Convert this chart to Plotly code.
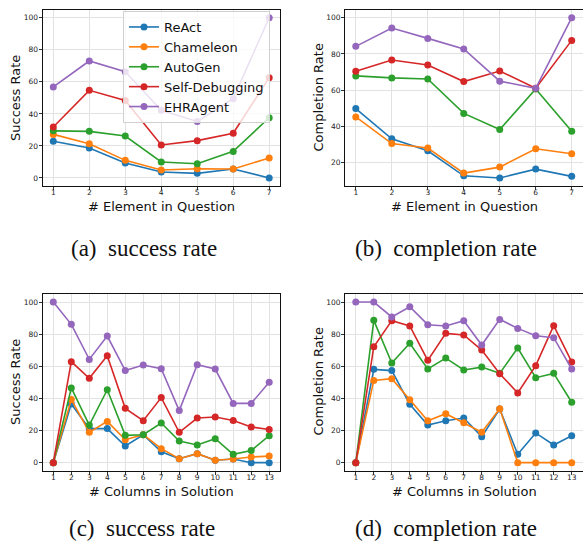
import plotly.graph_objects as go

W, H = 583, 547

methods = ["ReAct", "Chameleon", "AutoGen", "Self-Debugging", "EHRAgent"]
colors = ["#1f77b4", "#ff7f0e", "#2ca02c", "#d62728", "#9467bd"]

elem_x = [1, 2, 3, 4, 5, 6, 7]
cols_x = [1, 2, 3, 4, 5, 6, 7, 8, 9, 10, 11, 12, 13]

# (a) success rate vs # element in question
a_react = [22.9, 18.7, 9.4, 3.7, 2.9, 5.6, 0.0]
a_chameleon = [27.2, 21.4, 11.0, 5.0, 5.8, 5.6, 12.5]
a_autogen = [29.4, 29.1, 26.2, 10.0, 8.9, 16.6, 37.6]
a_selfdebug = [31.8, 54.7, 48.4, 20.6, 23.3, 27.9, 62.6]
a_ehragent = [56.8, 73.0, 66.3, 42.2, 35.3, 49.5, 100.0]

# (b) completion rate vs # element in question
b_react = [49.9, 33.2, 26.6, 12.8, 11.6, 16.5, 12.5]
b_chameleon = [45.3, 30.6, 28.1, 14.3, 17.6, 27.7, 25.0]
b_autogen = [67.9, 66.8, 66.2, 47.2, 38.3, 60.7, 37.4]
b_selfdebug = [70.5, 76.7, 73.9, 64.8, 70.6, 61.1, 87.5]
b_ehragent = [84.2, 94.3, 88.6, 82.8, 65.0, 61.1, 100.0]

# (c) success rate vs # columns in solution
c_react = [0.0, 36.5, 21.2, 21.2, 10.4, 17.4, 6.8, 2.5, 5.6, 1.5, 2.3, 0.0, 0.0]
c_chameleon = [0.0, 39.4, 18.9, 25.7, 14.3, 17.4, 8.7, 2.5, 5.6, 1.5, 2.3, 3.5, 4.1]
c_autogen = [0.0, 46.5, 23.4, 45.4, 17.0, 17.4, 24.7, 13.5, 11.0, 14.9, 5.2, 7.5, 16.8]
c_selfdebug = [0.0, 62.9, 52.5, 66.6, 33.8, 26.1, 40.5, 18.9, 27.8, 28.4, 26.3, 22.2, 20.7]
c_ehragent = [100.0, 86.1, 64.3, 78.8, 57.3, 60.8, 58.5, 32.4, 61.0, 58.3, 36.9, 36.9, 50.0]

# (d) completion rate vs # columns in solution
d_react = [0.0, 58.1, 57.3, 36.3, 23.4, 26.1, 27.8, 16.2, 33.4, 5.2, 18.5, 11.0, 16.8]
d_chameleon = [0.0, 51.2, 52.3, 39.2, 26.1, 30.5, 24.9, 18.9, 33.6, 0.0, 0.0, 0.0, 0.0]
d_autogen = [0.0, 88.6, 62.0, 74.3, 58.3, 65.1, 57.7, 59.5, 55.6, 71.4, 52.9, 55.6, 37.6]
d_selfdebug = [0.0, 72.2, 88.4, 85.1, 63.7, 80.5, 79.5, 70.1, 55.4, 43.4, 60.4, 85.3, 62.7]
d_ehragent = [100.0, 100.0, 90.7, 97.1, 85.9, 85.1, 88.4, 73.2, 89.2, 83.6, 79.0, 77.8, 58.3]

panels = [
    dict(x=elem_x, series=[a_react, a_chameleon, a_autogen, a_selfdebug, a_ehragent], ax="", legend=True),
    dict(x=elem_x, series=[b_react, b_chameleon, b_autogen, b_selfdebug, b_ehragent], ax="2", legend=False),
    dict(x=cols_x, series=[c_react, c_chameleon, c_autogen, c_selfdebug, c_ehragent], ax="3", legend=False),
    dict(x=cols_x, series=[d_react, d_chameleon, d_autogen, d_selfdebug, d_ehragent], ax="4", legend=False),
]

fig = go.Figure()
for p in panels:
    for name, col, ys in zip(methods, colors, p["series"]):
        fig.add_trace(go.Scatter(
            x=p["x"], y=ys, mode="lines+markers", name=name,
            line=dict(color=col, width=1.6),
            marker=dict(color=col, size=7),
            xaxis="x" + p["ax"], yaxis="y" + p["ax"],
            showlegend=p["legend"],
        ))

def px(x):
    return x / W

def py(y):
    return 1 - y / H

xdom_l = [px(42.5), px(280)]
xdom_r = [px(345), px(582.5)]
ydom_t = [py(186), py(9.7)]
ydom_b = [py(470.7), py(294)]

tickfont = dict(family="DejaVu Sans", size=7.5, color="#222")
common_x = dict(showgrid=True, gridcolor="#e2e2e2", gridwidth=1, zeroline=False,
                showline=True, linecolor="#111", linewidth=1, mirror=True,
                ticks="outside", ticklen=3, tickwidth=0.8, tickcolor="#333",
                tickfont=tickfont, dtick=1, tick0=1, ticklabelstandoff=-4)
common_y = dict(showgrid=True, gridcolor="#e2e2e2", gridwidth=1, zeroline=False,
                showline=True, linecolor="#111", linewidth=1, mirror=True,
                ticks="outside", ticklen=3, tickwidth=0.8, tickcolor="#333",
                tickfont=tickfont, dtick=20, tick0=0, ticklabelstandoff=-1)

fig.update_layout(
    width=W, height=H, autosize=False,
    margin=dict(l=0, r=0, t=0, b=0),
    paper_bgcolor="white", plot_bgcolor="white",
    font=dict(family="DejaVu Sans", color="#111"),
    xaxis=dict(domain=xdom_l, range=[0.7, 7.3], anchor="y", **common_x),
    yaxis=dict(domain=ydom_t, range=[-5, 105], anchor="x", **common_y),
    xaxis2=dict(domain=xdom_r, range=[0.7, 7.3], anchor="y2", **common_x),
    yaxis2=dict(domain=ydom_t, range=[7.18, 104.42], anchor="x2", **common_y),
    xaxis3=dict(domain=xdom_l, range=[0.4, 13.6], anchor="y3", **common_x),
    yaxis3=dict(domain=ydom_b, range=[-5, 105], anchor="x3", **common_y),
    xaxis4=dict(domain=xdom_r, range=[0.4, 13.6], anchor="y4", **common_x),
    yaxis4=dict(domain=ydom_b, range=[-5, 105], anchor="x4", **common_y),
    legend=dict(x=px(123), y=py(11), xanchor="left", yanchor="top",
                bgcolor="rgba(255,255,255,0.8)", bordercolor="#d0d0d0", borderwidth=1,
                font=dict(family="DejaVu Sans", size=13, color="#111"),
                itemwidth=30, entrywidth=112, entrywidthmode="pixels"),
)

ann = []
def label(text, x, y, size, family="DejaVu Sans", angle=0):
    ann.append(dict(text=text, x=px(x), y=py(y), xref="paper", yref="paper",
                    showarrow=False, xanchor="center", yanchor="middle",
                    textangle=angle, font=dict(family=family, size=size, color="#111")))

label("Success Rate", 15, 98, 13, angle=-90)
label("Completion Rate", 317.5, 98, 13, angle=-90)
label("Success Rate", 15, 382, 13, angle=-90)
label("Completion Rate", 317.5, 382, 13, angle=-90)
label("# Element in Question", 161, 206, 13)
label("# Element in Question", 464, 206, 13)
label("# Columns in Solution", 161, 491, 13)
label("# Columns in Solution", 464, 491, 13)
label("(a)\u00a0 success rate", 144, 248, 23, family="Liberation Serif")
label("(b)\u00a0 completion rate", 446, 248, 23, family="Liberation Serif")
label("(c)\u00a0 success rate", 142, 528, 23, family="Liberation Serif")
label("(d)\u00a0 completion rate", 446, 528, 23, family="Liberation Serif")
fig.update_layout(annotations=ann)

fig.write_html(
    "out.html",
    config={"displayModeBar": False},
    post_script="document.body.style.margin='0px';document.body.style.overflow='hidden';",
)
